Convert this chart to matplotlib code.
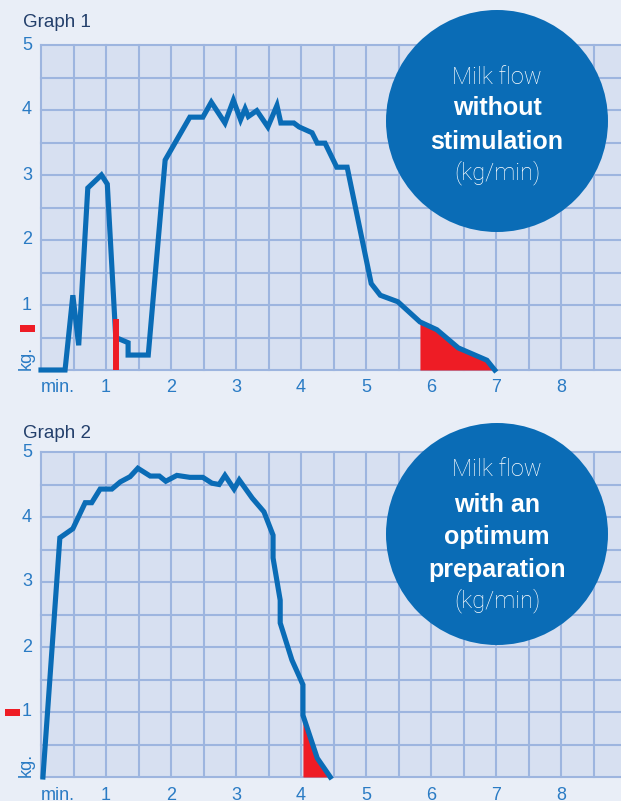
import numpy as np
import matplotlib
matplotlib.use("Agg")
import matplotlib.pyplot as plt
from matplotlib.patches import Ellipse, Rectangle

# ---------------- data ----------------
g1_x = [0.0, 0.37, 0.49, 0.58, 0.72, 0.93, 1.02, 1.15, 1.34, 1.34, 1.65, 1.91, 2.29, 2.49,
        2.62, 2.83, 2.96, 3.07, 3.14, 3.19, 3.32, 3.49, 3.63, 3.69, 3.89, 3.97, 4.17, 4.25,
        4.37, 4.55, 4.71, 5.08, 5.22, 5.49, 5.83, 6.09, 6.42, 6.86, 6.98]
g1_y = [0.0, 0.0, 1.15, 0.38, 2.8, 3.0, 2.86, 0.5, 0.42, 0.23, 0.23, 3.23, 3.89, 3.89,
        4.12, 3.8, 4.15, 3.85, 4.02, 3.9, 3.99, 3.74, 4.07, 3.80, 3.80, 3.74, 3.65, 3.49,
        3.49, 3.12, 3.12, 1.33, 1.15, 1.05, 0.74, 0.62, 0.34, 0.15, 0.0]
g1_fill_start = 5.83
g1_bar_x = 1.15
g1_bar_top = 0.78

g2_x = [0.03, 0.29, 0.49, 0.68, 0.78, 0.91, 1.09, 1.22, 1.37, 1.49, 1.68, 1.82, 1.92, 2.09,
        2.29, 2.49, 2.63, 2.74, 2.83, 2.97, 3.05, 3.25, 3.43, 3.57, 3.57, 3.68, 3.68, 3.86,
        4.03, 4.03, 4.25, 4.34, 4.45]
g2_y = [0.0, 3.68, 3.82, 4.22, 4.22, 4.43, 4.43, 4.54, 4.62, 4.75, 4.63, 4.63, 4.55, 4.64,
        4.61, 4.61, 4.52, 4.50, 4.64, 4.43, 4.57, 4.29, 4.08, 3.72, 3.37, 2.72, 2.37, 1.80,
        1.42, 0.95, 0.29, 0.16, 0.0]
g2_fill_start = 4.03

x_ticks = [1, 2, 3, 4, 5, 6, 7, 8, 9]
y_ticks = [1, 2, 3, 4, 5]
titles = ["Graph 1", "Graph 2"]
circle_texts = [
    [("Milk flow", "light"), ("without", "bold"), ("stimulation", "bold"), ("(kg/min)", "light")],
    [("Milk flow", "light"), ("with an", "bold"), ("optimum", "bold"), ("preparation", "bold"), ("(kg/min)", "light")],
]

# ---------------- style ----------------
W, H = 621, 801
FIG_BG = "#E9EEF7"
AX_BG = "#D7E0F1"
GRID = "#9DB5DF"
BLUE = "#0A6CB6"
RED = "#EE1C25"
TICK = "#2A7BC4"
NAVY = "#233F6B"
LIGHT_FONT = "Roboto"
BOLD_FONT = "Liberation Sans"
TICK_FONT = "Liberation Sans"
TICK_SIZE = 13

fig = plt.figure(figsize=(W / 100, H / 100), dpi=100, facecolor=FIG_BG)


def rect(left, top, right, bottom):
    return [left / W, 1 - bottom / H, (right - left) / W, (bottom - top) / H]


def setup(ax):
    ax.set_facecolor(AX_BG)
    ax.set_xlim(0, 580 / 65)
    ax.set_ylim(0, 5)
    for s in ax.spines.values():
        s.set_visible(False)
    ax.set_xticks([])
    ax.set_yticks([])
    for v in np.arange(0, 9.0, 0.5):
        ax.axvline(v, color=GRID, lw=1.5, zorder=1, clip_on=False)
    for v in np.arange(0, 5.01, 0.5):
        ax.axhline(v, color=GRID, lw=1.5, zorder=1, clip_on=False)
    yt = ax.get_yaxis_transform()
    xt = ax.get_xaxis_transform()
    for t in y_ticks:
        ax.text(-9 / 580, t, str(t), transform=yt, ha="right", va="center",
                fontsize=TICK_SIZE, color=TICK, family=TICK_FONT, clip_on=False)
    ax.text(-15 / 580, -0.004, "kg.", transform=yt, rotation=90, ha="center", va="bottom",
            fontsize=TICK_SIZE, color=TICK, family=TICK_FONT, clip_on=False)
    ax.text(0.0, -18 / 325, "min.", transform=xt, ha="left", va="center",
            fontsize=TICK_SIZE, color=TICK, family=TICK_FONT, clip_on=False)
    for t in x_ticks:
        ax.text(t, -18 / 325, str(t), transform=xt, ha="center", va="center",
                fontsize=TICK_SIZE, color=TICK, family=TICK_FONT, clip_on=False)


ax1 = fig.add_axes(rect(41, 45, 621, 370))
ax2 = fig.add_axes(rect(41, 452, 621, 777))
setup(ax1)
setup(ax2)

# graph 1
x1 = np.array(g1_x); y1 = np.array(g1_y)
m1 = x1 >= g1_fill_start
ax1.fill_between(x1[m1], 0, y1[m1], color=RED, lw=0, zorder=2)
ax1.plot(x1, y1, color=BLUE, lw=3.7, solid_joinstyle="miter", zorder=3, clip_on=False)
ax1.plot([g1_bar_x, g1_bar_x], [0, g1_bar_top], color=RED, lw=4.3, solid_capstyle="butt", zorder=4)

# graph 2
x2 = np.array(g2_x); y2 = np.array(g2_y)
idx = np.where(x2 >= g2_fill_start)[0][1:]
ax2.fill_between(x2[idx], 0, y2[idx], color=RED, lw=0, zorder=2)
ax2.plot(x2, y2, color=BLUE, lw=3.7, solid_joinstyle="miter", zorder=3, clip_on=False)

# red markers beside the y axes (pixel positions)
for (lx, cy) in [(20, 328.5), (5, 712.5)]:
    fig.add_artist(Rectangle((lx / W, 1 - (cy + 3.5) / H), 15 / W, 7 / H,
                             transform=fig.transFigure, color=RED, lw=0, zorder=10))

# titles
for title, base in zip(titles, [27, 438]):
    fig.text(23 / W, 1 - base / H, title, ha="left", va="baseline", fontsize=13.5,
             color=NAVY, family="Liberation Sans")

# circles
r = 111
for (cx, cy), lines, ys in zip([(497, 121), (497, 534)], circle_texts,
                               [[77, 108, 142, 173], [470, 505, 537, 570, 601]]):
    fig.add_artist(Ellipse((cx / W, 1 - cy / H), 2 * r / W, 2 * r / H,
                           transform=fig.transFigure, color=BLUE, lw=0, zorder=20))
    for (txt, wt), yy in zip(lines, ys):
        fam = LIGHT_FONT if wt == "light" else BOLD_FONT
        size = 17 if wt == "light" else 18
        fig.text(cx / W, 1 - yy / H, txt, ha="center", va="center", fontsize=size,
                 color="white", family=fam, fontweight=wt, zorder=21)

fig.savefig("out.png", dpi=100, facecolor=FIG_BG)
